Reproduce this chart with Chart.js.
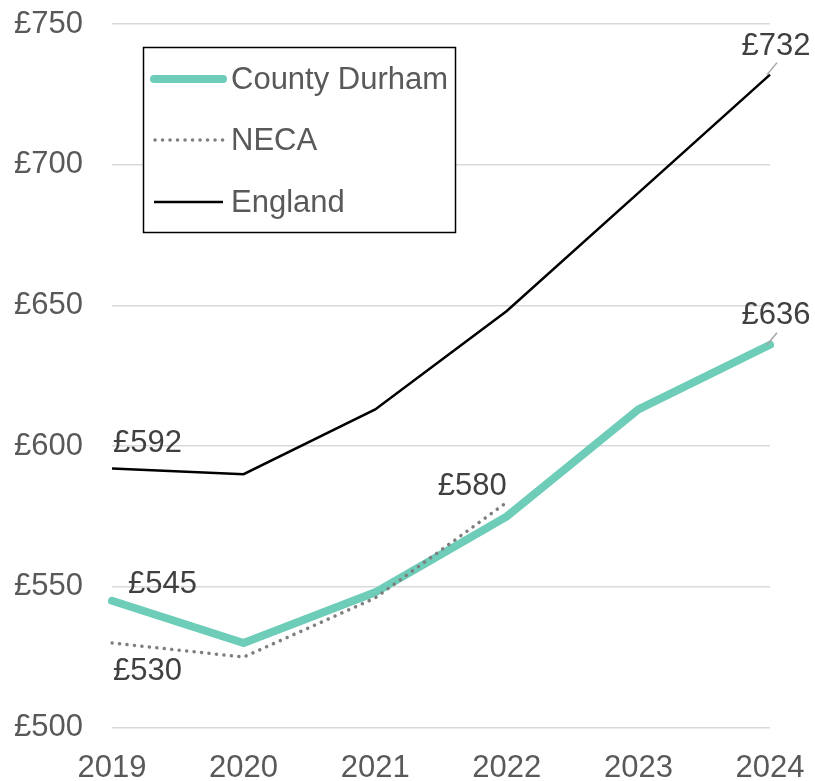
<!DOCTYPE html>
<html>
<head>
<meta charset="utf-8">
<script src="https://cdn.jsdelivr.net/npm/chart.js@4"></script>
<style>
  html, body { margin: 0; padding: 0; background: #fff; }
  #wrap { width: 815px; height: 781px; }
</style>
</head>
<body>
<div id="wrap"><canvas id="chart" width="815" height="781"></canvas></div>
<script>
const years = ['2019', '2020', '2021', '2022', '2023', '2024'];
const durham = [545, 530, 548, 575, 613, 636];
const neca = [530, 525, 546, 580, null, null];
const england = [592, 590, 613, 648, 690, 732];
const yTicks = [500, 550, 600, 650, 700, 750];

const FONT = '"Liberation Sans", Arial, sans-serif';
const FSIZE = 31;

// which points get a value label, and where it sits relative to the point
const labelSpots = [
  { ds: 2, i: 0, dx: 1, dy: -25, align: 'left' },
  { ds: 0, i: 0, dx: 16, dy: -16, align: 'left' },
  { ds: 1, i: 0, dx: 1, dy: 28, align: 'left' },
  { ds: 1, i: 3, dx: 0, dy: -16, align: 'right' },
  { ds: 2, i: 5, dx: 6, dy: -28, align: 'center', leader: true },
  { ds: 0, i: 5, dx: 6, dy: -29, align: 'center', leader: true }
];

const valueLabels = {
  id: 'valueLabels',
  afterDatasetsDraw(chart) {
    const ctx = chart.ctx;
    ctx.save();
    ctx.font = FSIZE + 'px ' + FONT;
    ctx.fillStyle = '#404040';
    ctx.textBaseline = 'middle';
    labelSpots.forEach(s => {
      const pt = chart.getDatasetMeta(s.ds).data[s.i];
      const v = chart.data.datasets[s.ds].data[s.i];
      if (s.leader) {
        ctx.strokeStyle = '#a6a6a6';
        ctx.lineWidth = 1.5;
        ctx.beginPath();
        ctx.moveTo(pt.x - 3, pt.y);
        ctx.lineTo(pt.x + 7, pt.y - 12);
        ctx.stroke();
      }
      ctx.textAlign = s.align;
      ctx.fillText('£' + v, pt.x + s.dx, pt.y + s.dy);
    });
    ctx.restore();
  }
};

const boxLegend = {
  id: 'boxLegend',
  afterDraw(chart) {
    const ctx = chart.ctx;
    ctx.save();
    ctx.fillStyle = '#fff';
    ctx.fillRect(143, 47, 313, 186);
    ctx.strokeStyle = '#000';
    ctx.lineWidth = 1.5;
    ctx.strokeRect(143.5, 47.5, 312, 185);
    const rows = [79, 140, 202];
    chart.data.datasets.forEach((ds, k) => {
      const y = rows[k];
      ctx.strokeStyle = ds.borderColor;
      ctx.lineWidth = ds.borderWidth;
      ctx.lineCap = ds.borderCapStyle || 'butt';
      ctx.setLineDash(ds.borderDash || []);
      ctx.beginPath();
      ctx.moveTo(ds.borderDash ? 155 : 154, y);
      ctx.lineTo(223, y);
      ctx.stroke();
      ctx.setLineDash([]);
      ctx.fillStyle = '#595959';
      ctx.font = FSIZE + 'px ' + FONT;
      ctx.textAlign = 'left';
      ctx.textBaseline = 'middle';
      ctx.fillText(ds.label, 231, y + 1);
    });
    ctx.restore();
  }
};

new Chart(document.getElementById('chart'), {
  type: 'line',
  data: {
    labels: years,
    datasets: [
      {
        label: 'County Durham',
        data: durham,
        borderColor: '#6dcdb8',
        borderWidth: 8,
        borderCapStyle: 'round',
        borderJoinStyle: 'miter',
        pointRadius: 0,
        tension: 0,
        order: 3
      },
      {
        label: 'NECA',
        data: neca,
        borderColor: '#7f7f7f',
        borderWidth: 3.5,
        borderDash: [0.1, 7.4],
        borderCapStyle: 'round',
        pointRadius: 0,
        tension: 0,
        spanGaps: false,
        order: 1
      },
      {
        label: 'England',
        data: england,
        borderColor: '#000000',
        borderWidth: 2.5,
        pointRadius: 0,
        tension: 0,
        order: 2
      }
    ]
  },
  options: {
    responsive: false,
    animation: false,
    layout: { padding: { top: 24, right: 45, left: 0, bottom: 0 } },
    plugins: {
      legend: { display: false },
      tooltip: { enabled: false }
    },
    scales: {
      x: {
        offset: false,
        grid: { display: false, drawTicks: false },
        border: { display: false },
        ticks: {
          color: '#595959',
          font: { family: FONT, size: FSIZE },
          padding: 22,
          maxRotation: 0,
          autoSkip: false
        },
        afterFit(scale) {
          scale.height = 53.6;
          scale.paddingLeft = 0;
          scale.paddingRight = 0;
        }
      },
      y: {
        min: 500,
        max: 750,
        afterBuildTicks(scale) { scale.ticks = yTicks.map(v => ({ value: v })); },
        grid: { color: '#d9d9d9', lineWidth: 1.5, drawTicks: false },
        border: { display: false },
        ticks: {
          color: '#595959',
          font: { family: FONT, size: FSIZE },
          padding: 29,
          callback: v => '£' + v
        },
        afterFit(scale) {
          scale.width = 112;
          scale.paddingTop = 0;
          scale.paddingBottom = 0;
        }
      }
    }
  },
  plugins: [valueLabels, boxLegend]
});
</script>
</body>
</html>
